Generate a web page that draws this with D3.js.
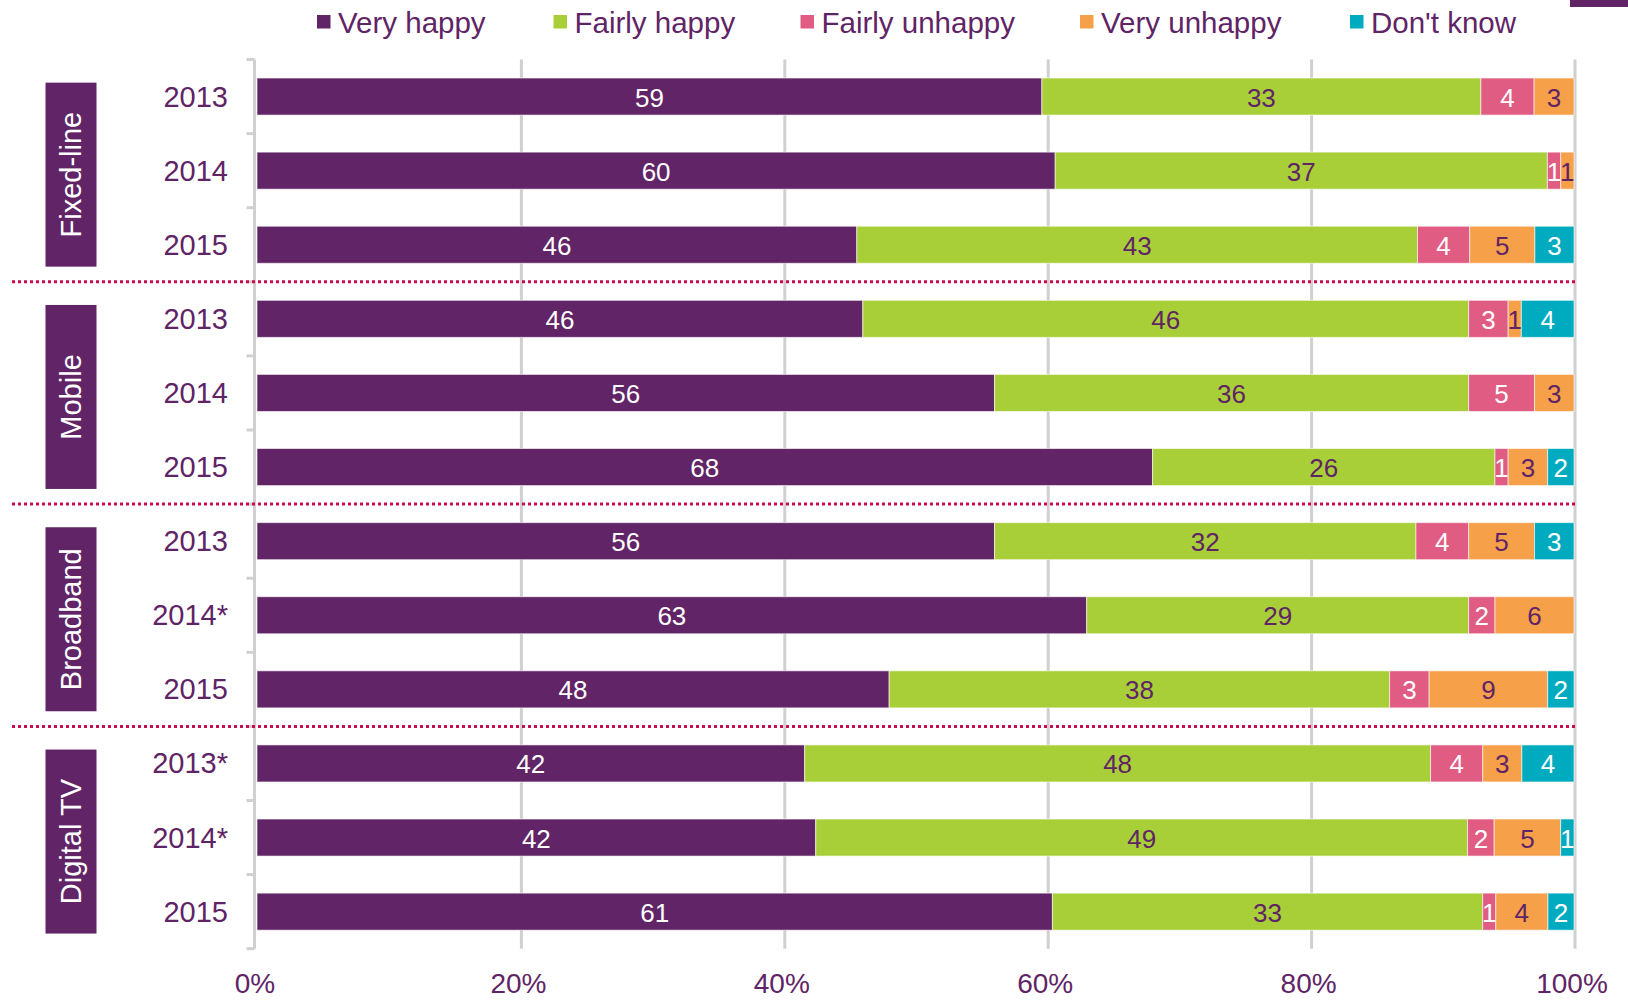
<!DOCTYPE html>
<html>
<head>
<meta charset="utf-8">
<script src="https://cdn.jsdelivr.net/npm/d3@7"></script>
<style>
  body { margin: 0; background: #fff; }
  text { font-family: "Liberation Sans", Arial, sans-serif; }
</style>
</head>
<body>
<div id="chart"></div>
<script>
// data
var groups = ["Fixed-line", "Mobile", "Broadband", "Digital TV"];
var rowLabels = ["2013", "2014", "2015", "2013", "2014", "2015", "2013", "2014*", "2015", "2013*", "2014*", "2015"];
var seriesNames = ["Very happy", "Fairly happy", "Fairly unhappy", "Very unhappy", "Don't know"];
var veryHappy = [59, 60, 46, 46, 56, 68, 56, 63, 48, 42, 42, 61];
var fairlyHappy = [33, 37, 43, 46, 36, 26, 32, 29, 38, 48, 49, 33];
var fairlyUnhappy = [4, 1, 4, 3, 5, 1, 4, 2, 3, 4, 2, 1];
var veryUnhappy = [3, 1, 5, 1, 3, 3, 5, 6, 9, 3, 5, 4];
var dontKnow = [0, 0, 3, 4, 0, 2, 3, 0, 2, 4, 1, 2];
var xTicks = [0, 0.2, 0.4, 0.6, 0.8, 1];

var colors = ["#612466", "#a9cf38", "#e05c83", "#f6a04a", "#00abbf"];
var labelColors = ["#fff", "#5f2466", "#fff", "#5f2466", "#fff"];
var purple = "#5f2466";

var width = 1628, height = 1001;
var plotTop = 59.5, plotBottom = 948.7;

var svg = d3.select("#chart")
  .append("svg")
  .attr("width", width)
  .attr("height", height);

// build rows for the stack
var rows = rowLabels.map(function (lab, i) {
  return {
    idx: i,
    "Very happy": veryHappy[i],
    "Fairly happy": fairlyHappy[i],
    "Fairly unhappy": fairlyUnhappy[i],
    "Very unhappy": veryUnhappy[i],
    "Don't know": dontKnow[i]
  };
});

var stacked = d3.stack()
  .keys(seriesNames)
  .offset(d3.stackOffsetExpand)(rows);

var x = d3.scaleLinear().domain([0, 1]).range([257, 1574]);
var y = d3.scaleBand()
  .domain(d3.range(rowLabels.length))
  .range([plotTop, plotBottom])
  .paddingInner(0.5)
  .paddingOuter(0.25);

var step = y.step();

// vertical gridlines
svg.append("g")
  .selectAll("line")
  .data(xTicks.slice(1))
  .enter()
  .append("line")
  .attr("x1", function (d) { return x(d) + 1; })
  .attr("x2", function (d) { return x(d) + 1; })
  .attr("y1", plotTop)
  .attr("y2", plotBottom)
  .style("stroke", "#d0d0d0")
  .style("stroke-width", 3);

// y axis line with ticks at band boundaries
var axisX = 254.5;
svg.append("line")
  .attr("x1", axisX).attr("x2", axisX)
  .attr("y1", plotTop).attr("y2", plotBottom)
  .style("stroke", "#d0d0d0")
  .style("stroke-width", 3);

var boundaries = d3.range(rowLabels.length + 1).map(function (i) {
  return i < rowLabels.length ? y(i) - step * 0.25 : plotBottom;
});
svg.append("g")
  .selectAll("line")
  .data(boundaries)
  .enter()
  .append("line")
  .attr("x1", axisX - 8).attr("x2", axisX)
  .attr("y1", function (d) { return d; })
  .attr("y2", function (d) { return d; })
  .style("stroke", "#d0d0d0")
  .style("stroke-width", 3);

// bars
var layer = svg.append("g")
  .selectAll("g")
  .data(stacked)
  .enter()
  .append("g")
  .attr("fill", function (d, i) { return colors[i]; });

layer.selectAll("rect")
  .data(function (d) { return d; })
  .enter()
  .append("rect")
  .attr("x", function (d) { return x(d[0]); })
  .attr("y", function (d) { return y(d.data.idx); })
  .attr("width", function (d) { return Math.max(0, x(d[1]) - x(d[0])); })
  .attr("height", y.bandwidth())
  .style("stroke", "rgba(255,255,255,0.6)")
  .style("stroke-width", 1);

// value labels
layer.each(function (s, si) {
  d3.select(this).selectAll("text")
    .data(s.filter(function (d) { return d.data[s.key] > 0; }))
    .enter()
    .append("text")
    .attr("x", function (d) { return (x(d[0]) + x(d[1])) / 2; })
    .attr("y", function (d) { return y(d.data.idx) + y.bandwidth() / 2 + 1; })
    .attr("text-anchor", "middle")
    .attr("dominant-baseline", "central")
    .style("font-size", "26px")
    .style("fill", labelColors[si])
    .text(function (d) { return d.data[s.key]; });
});

// row labels
svg.append("g")
  .selectAll("text")
  .data(rowLabels)
  .enter()
  .append("text")
  .attr("x", 228)
  .attr("y", function (d, i) { return y(i) + y.bandwidth() / 2; })
  .attr("text-anchor", "end")
  .attr("dominant-baseline", "central")
  .style("font-size", "29px")
  .style("fill", purple)
  .text(function (d) { return d; });

// dotted separators between groups
var sepIdx = [3, 6, 9];
svg.append("g")
  .selectAll("line")
  .data(sepIdx)
  .enter()
  .append("line")
  .attr("x1", 12).attr("x2", 1576)
  .attr("y1", function (d) { return y(d) - step * 0.25; })
  .attr("y2", function (d) { return y(d) - step * 0.25; })
  .style("stroke", "#cc0a4e")
  .style("stroke-width", 3)
  .style("stroke-dasharray", "3,3");

// group boxes
var boxH = 184;
var box = svg.append("g")
  .selectAll("g")
  .data(groups)
  .enter()
  .append("g")
  .attr("transform", function (d, i) {
    var cy = y(i * 3 + 1) + y.bandwidth() / 2 + 4;
    return "translate(71," + cy + ")";
  });
box.append("rect")
  .attr("x", -25.5).attr("y", -boxH / 2)
  .attr("width", 51).attr("height", boxH)
  .style("fill", "#612466");
box.append("text")
  .attr("transform", "rotate(-90)")
  .attr("text-anchor", "middle")
  .attr("dominant-baseline", "central")
  .attr("y", 0)
  .style("font-size", "29px")
  .style("fill", "#fff")
  .text(function (d) { return d; });

// x tick labels
svg.append("g")
  .selectAll("text")
  .data(xTicks)
  .enter()
  .append("text")
  .attr("x", function (d) { return x(d) - 2; })
  .attr("y", 983)
  .attr("text-anchor", "middle")
  .attr("dominant-baseline", "central")
  .style("font-size", "28px")
  .style("fill", purple)
  .text(function (d) { return Math.round(d * 100) + "%"; });

// legend
var legendX = [317, 553.5, 800.5, 1080, 1350];
var legend = svg.append("g")
  .selectAll("g")
  .data(seriesNames)
  .enter()
  .append("g")
  .attr("transform", function (d, i) { return "translate(" + legendX[i] + ",22)"; });
legend.append("rect")
  .attr("x", 0).attr("y", -7)
  .attr("width", 13.5).attr("height", 13.5)
  .style("fill", function (d, i) { return colors[i]; });
legend.append("text")
  .attr("x", 21)
  .attr("y", 0)
  .attr("dominant-baseline", "central")
  .style("font-size", "29.5px")
  .style("fill", purple)
  .text(function (d) { return d; });

// small purple tab in the top right corner
svg.append("rect")
  .attr("x", 1570).attr("y", 0)
  .attr("width", 58).attr("height", 7)
  .style("fill", "#612466");
</script>
</body>
</html>
